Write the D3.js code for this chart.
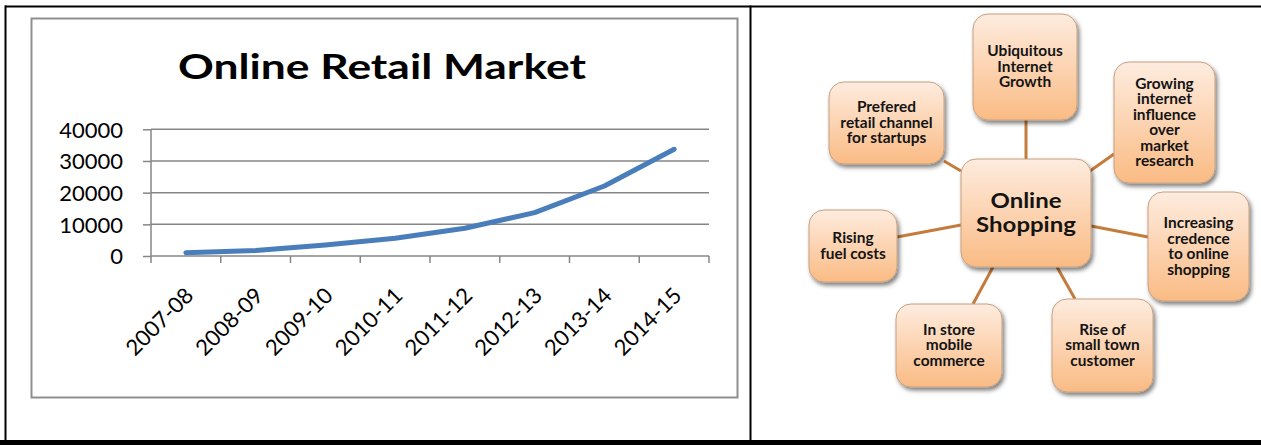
<!DOCTYPE html>
<html><head><meta charset="utf-8">
<script src="https://cdn.jsdelivr.net/npm/d3@7"></script>
<style>html,body{margin:0;padding:0;background:#fff;} svg{display:block;}</style>
</head><body>
<svg id="c" width="1261" height="445"></svg>
<script>
// ---------- data ----------
const categories = ["2007-08","2008-09","2009-10","2010-11","2011-12","2012-13","2013-14","2014-15"];
const marketValues = [1050, 1700, 3500, 5600, 8750, 13700, 22100, 33700];
const yTicks = [0, 10000, 20000, 30000, 40000];
const chartTitle = "Online Retail Market";
const hubLabel = ["Online", "Shopping"];
const factorLabels = [
  ["Ubiquitous", "Internet", "Growth"],
  ["Growing", "internet", "influence", "over", "market", "research"],
  ["Increasing", "credence", "to online", "shopping"],
  ["Rise of", "small town", "customer"],
  ["In store", "mobile", "commerce"],
  ["Rising", "fuel costs"],
  ["Prefered", "retail channel", "for startups"]
];

// ---------- layout (not data) ----------
const hubBox = {x: 961, y: 159, w: 130, h: 108};
const factorBoxes = [
  {x: 973, y: 14, w: 104, h: 106, a: [1026, 159], b: [1026, 120]},
  {x: 1114, y: 62, w: 101, h: 121, a: [1090, 171], b: [1114, 154]},
  {x: 1148, y: 192, w: 101, h: 109, a: [1091, 226], b: [1148, 237]},
  {x: 1052, y: 299, w: 101, h: 93, a: [1057, 267], b: [1075, 299]},
  {x: 896, y: 304, w: 106, h: 83, a: [993, 267], b: [973, 304]},
  {x: 809, y: 210, w: 88, h: 72, a: [961, 225], b: [897, 237]},
  {x: 829, y: 82, w: 115, h: 82, a: [961, 171], b: [944, 161]}
];

const svg = d3.select("#c");
const defs = svg.append("defs");
const grad = defs.append("linearGradient").attr("id", "boxGrad")
  .attr("x1", 0).attr("y1", 0).attr("x2", 0).attr("y2", 1);
grad.append("stop").attr("offset", "0%").attr("stop-color", "#feecdf");
grad.append("stop").attr("offset", "100%").attr("stop-color", "#fabb84");
const flt = defs.append("filter").attr("id", "shadow")
  .attr("x", "-20%").attr("y", "-20%").attr("width", "150%").attr("height", "150%");
flt.append("feDropShadow").attr("dx", 2).attr("dy", 3).attr("stdDeviation", 2)
  .attr("flood-color", "#000").attr("flood-opacity", 0.5);

// ---------- outer frame ----------
svg.append("rect").attr("x", 0).attr("y", 440).attr("width", 1261).attr("height", 5).attr("fill", "#000");
svg.append("line").attr("x1", 5).attr("x2", 1261).attr("y1", 6.5).attr("y2", 6.5).attr("stroke", "#000").attr("stroke-width", 2);
svg.append("line").attr("x1", 5.5).attr("x2", 5.5).attr("y1", 5.5).attr("y2", 441).attr("stroke", "#000").attr("stroke-width", 2);
svg.append("line").attr("x1", 750.5).attr("x2", 750.5).attr("y1", 5.5).attr("y2", 441).attr("stroke", "#000").attr("stroke-width", 2);

// ---------- left chart ----------
svg.append("rect").attr("x", 31.5).attr("y", 18.5).attr("width", 706).attr("height", 379)
  .attr("fill", "#fff").attr("stroke", "#8f8f8f").attr("stroke-width", 2);

svg.append("text").attr("x", 382).attr("y", 79).attr("text-anchor", "middle")
  .attr("font-family", "Lato, 'Open Sans', sans-serif").attr("font-weight", "bold")
  .attr("font-size", 35).attr("textLength", 408).attr("lengthAdjust", "spacingAndGlyphs")
  .attr("fill", "#000").text(chartTitle);

const x = d3.scaleBand().domain(categories).range([151, 709]).paddingInner(0).paddingOuter(0);
const y = d3.scaleLinear().domain([0, 40000]).range([256, 129.3]);

const grid = svg.append("g");
grid.selectAll("line").data(yTicks.filter(d => d > 0)).join("line")
  .attr("x1", 151).attr("x2", 709).attr("y1", d => y(d)).attr("y2", d => y(d))
  .attr("stroke", "#868686").attr("stroke-width", 1.5);

const yAxis = svg.append("g").attr("transform", "translate(151,0)")
  .call(d3.axisLeft(y).tickValues(yTicks).tickSize(8).tickPadding(20).tickFormat(d3.format("d")));
yAxis.select(".domain").attr("stroke", "#868686").attr("stroke-width", 1.5).attr("d", "M0,129.3V256");
yAxis.selectAll(".tick line").attr("stroke", "#868686").attr("stroke-width", 1.5);
yAxis.selectAll(".tick text").attr("font-family", "Lato, sans-serif").attr("font-size", 22)
  .attr("fill", "#000").attr("dy", "0.36em");

const xAxis = svg.append("g").attr("transform", "translate(0,256)")
  .call(d3.axisBottom(x).tickSize(0).tickFormat(""));
xAxis.select(".domain").attr("stroke", "#868686").attr("stroke-width", 1.5).attr("d", "M151,0H709");
const tickPos = categories.map(c => x(c)).concat([x.range()[1]]);
xAxis.selectAll("line.xt").data(tickPos).join("line").attr("class", "xt")
  .attr("x1", d => d).attr("x2", d => d).attr("y1", 0).attr("y2", 7)
  .attr("stroke", "#868686").attr("stroke-width", 1.5);

svg.append("g").selectAll("text").data(categories).join("text")
  .attr("text-anchor", "end")
  .attr("transform", d => `translate(${x(d) + x.bandwidth() / 2 + 9},${297}) rotate(-45)`)
  .attr("font-family", "Lato, sans-serif").attr("font-size", 22).attr("fill", "#000")
  .text(d => d);

const line = d3.line()
  .x((d, i) => x(categories[i]) + x.bandwidth() / 2)
  .y(d => y(d))
  .curve(d3.curveLinear);
svg.append("path").datum(marketValues).attr("d", line)
  .attr("fill", "none").attr("stroke", "#4a7ebb").attr("stroke-width", 5)
  .attr("stroke-linecap", "round").attr("stroke-linejoin", "round");

// ---------- right diagram ----------
const dg = svg.append("g");
dg.selectAll("line.conn").data(factorBoxes).join("line").attr("class", "conn")
  .attr("x1", d => d.a[0]).attr("y1", d => d.a[1]).attr("x2", d => d.b[0]).attr("y2", d => d.b[1])
  .attr("stroke", "#c47c3d").attr("stroke-width", 3);

function drawBox(g, b, lines, fs, lh, sx) {
  g.append("rect").attr("x", b.x).attr("y", b.y).attr("width", b.w).attr("height", b.h)
    .attr("rx", 15).attr("ry", 15).attr("fill", "url(#boxGrad)")
    .attr("stroke", "#c4a080").attr("stroke-width", 1).attr("filter", "url(#shadow)");
  const cx = b.x + b.w / 2, cy = b.y + b.h / 2;
  const t = g.append("text").attr("text-anchor", "middle")
    .attr("transform", `translate(${cx},0) scale(${sx},1)`)
    .attr("font-family", "Lato, sans-serif").attr("font-weight", "bold")
    .attr("font-size", fs).attr("fill", "#141414");
  lines.forEach((s, i) => {
    t.append("tspan").attr("x", 0)
      .attr("y", cy + (i - (lines.length - 1) / 2) * lh)
      .attr("dy", "0.35em").text(s);
  });
}
factorBoxes.forEach((b, i) => drawBox(dg.append("g"), b, factorLabels[i], 14.3, 15.5, 1.08));
drawBox(dg.append("g"), hubBox, hubLabel, 20.5, 24, 1.17);
</script>
</body></html>
